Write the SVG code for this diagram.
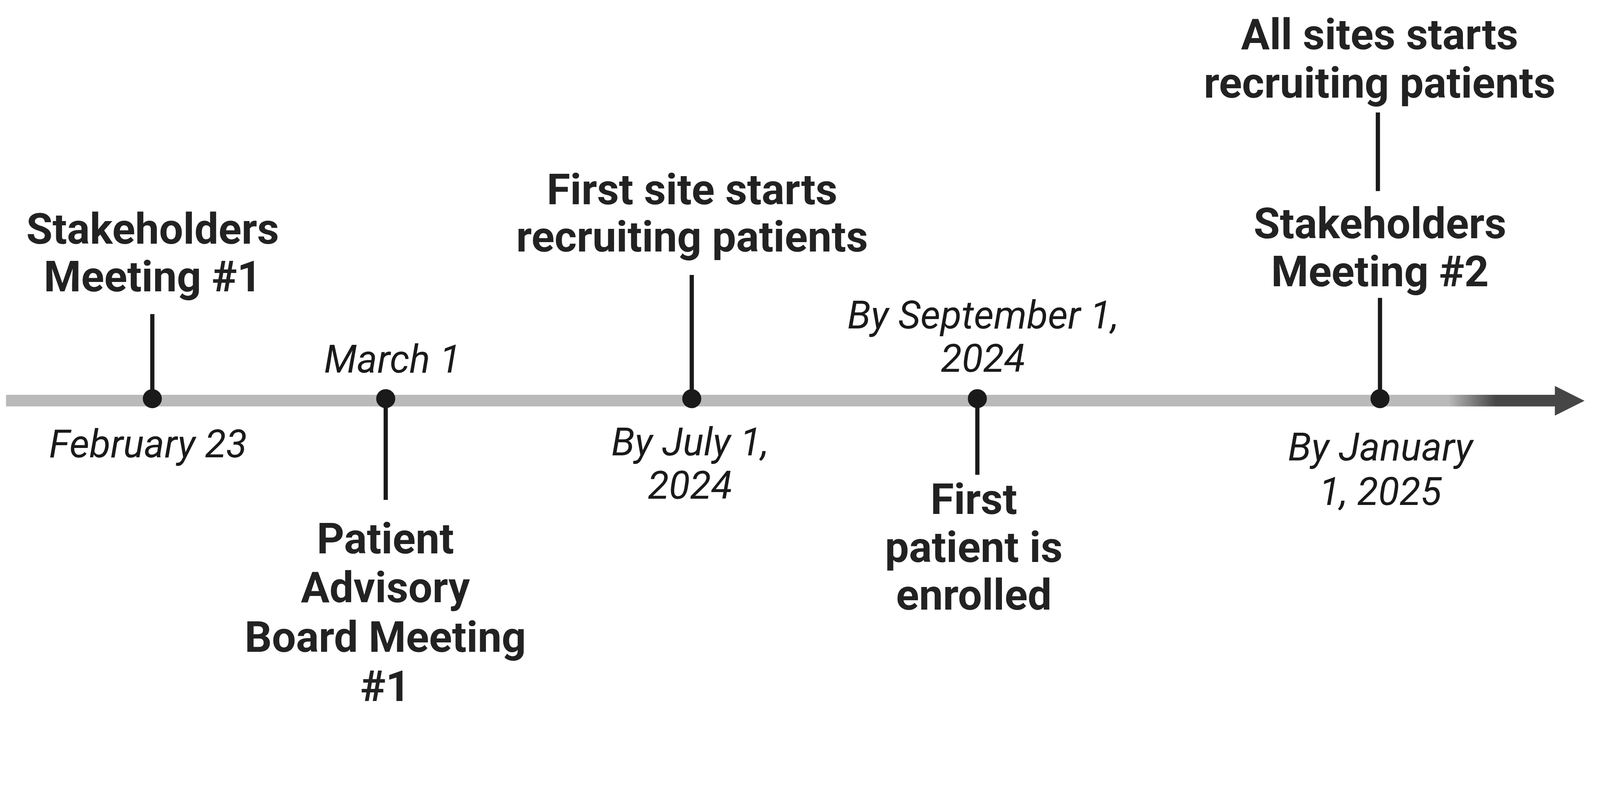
<svg xmlns="http://www.w3.org/2000/svg" width="4538" height="2028" viewBox="0 0 4538 2028" preserveAspectRatio="xMidYMin meet" style="width:100vw;height:100vh;display:block">
<style>
.t{font-family:Roboto,"Liberation Sans",Arial,sans-serif;font-weight:700;font-size:121px;fill:#222222;text-anchor:middle}
.d{font-family:Roboto,"Liberation Sans",Arial,sans-serif;font-style:italic;font-weight:400;font-size:110px;fill:#1a1a1a;text-anchor:middle}
.stem{stroke:#1a1a1a;stroke-width:12;fill:none}
.dot{fill:#1a1a1a}
</style>
<defs>
<linearGradient id="barGrad" gradientUnits="userSpaceOnUse" x1="17" y1="0" x2="4410" y2="0">
<stop offset="0" stop-color="#bababa"/>
<stop offset="0.9311" stop-color="#bababa"/>
<stop offset="0.9618" stop-color="#464646"/>
<stop offset="1" stop-color="#464646"/>
</linearGradient>
</defs>
<rect width="4538" height="2028" fill="#ffffff"/>
<g id="axis">
<rect x="17" y="1120" width="4395" height="33" fill="url(#barGrad)"/>
<polygon points="4410,1095 4494,1137 4410,1179" fill="#464646"/>
</g>
<g id="connectors">
<line class="stem" x1="432" y1="891" x2="432" y2="1131"/>
<line class="stem" x1="1094" y1="1131" x2="1094" y2="1418"/>
<line class="stem" x1="1962" y1="780" x2="1962" y2="1131"/>
<line class="stem" x1="2772" y1="1131" x2="2772" y2="1347"/>
<line class="stem" x1="3914" y1="845" x2="3914" y2="1131"/>
<line class="stem" x1="3908" y1="319" x2="3908" y2="542"/>
</g>
<g id="node-feb23">
<circle class="dot" cx="432" cy="1131" r="27"/>
<text class="t" x="433" y="691">Stakeholders</text>
<text class="t" x="433" y="826">Meeting #1</text>
<text class="d" x="420" y="1297">February 23</text>
</g>
<g id="node-mar1">
<circle class="dot" cx="1094" cy="1131" r="27"/>
<text class="d" x="1113" y="1057">March 1</text>
<text class="t" x="1093" y="1570">Patient</text>
<text class="t" x="1093" y="1708">Advisory</text>
<text class="t" x="1093" y="1849">Board Meeting</text>
<text class="t" x="1093" y="1989">#1</text>
</g>
<g id="node-jul1">
<circle class="dot" cx="1962" cy="1131" r="27"/>
<text class="t" x="1963" y="579">First site starts</text>
<text class="t" x="1963" y="714">recruiting patients</text>
<text class="d" x="1957" y="1292">By July 1,</text>
<text class="d" x="1957" y="1415">2024</text>
</g>
<g id="node-sep1">
<circle class="dot" cx="2772" cy="1131" r="27"/>
<text class="d" x="2788" y="932">By September 1,</text>
<text class="d" x="2788" y="1055">2024</text>
<text class="t" x="2762" y="1458">First</text>
<text class="t" x="2762" y="1594">patient is</text>
<text class="t" x="2762" y="1730">enrolled</text>
</g>
<g id="node-jan1">
<circle class="dot" cx="3914" cy="1131" r="27"/>
<text class="t" x="3913" y="140">All sites starts</text>
<text class="t" x="3913" y="277">recruiting patients</text>
<text class="t" x="3914" y="676">Stakeholders</text>
<text class="t" x="3914" y="812">Meeting #2</text>
<text class="d" x="3915" y="1306">By January</text>
<text class="d" x="3915" y="1432">1, 2025</text>
</g>
</svg>
